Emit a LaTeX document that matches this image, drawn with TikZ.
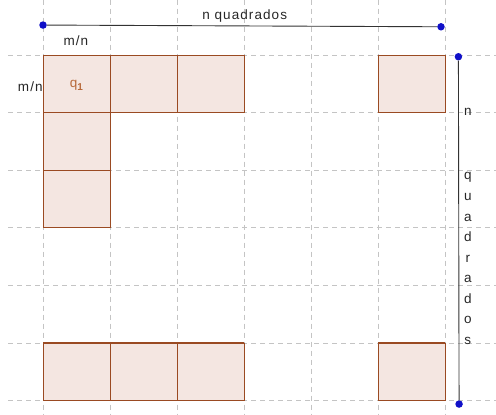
\documentclass[tikz,border=0pt]{standalone}
\usepackage{fontspec}
\setmainfont{Liberation Sans}
\definecolor{gridgray}{HTML}{C4C4C4}
\definecolor{quadfill}{HTML}{F4E6E1}
\definecolor{quadline}{HTML}{9A4A22}
\definecolor{quadtext}{HTML}{B8693A}
\definecolor{ptblue}{HTML}{1010C8}
\tikzset{
  gridline/.style={gridgray, line width=0.8pt, dash pattern=on 5pt off 4pt},
  quad/.style={draw=quadline, fill=quadfill, line width=0.9pt},
  endpt/.style={circle, fill=ptblue, inner sep=0pt, minimum size=7.5pt},
  lbl/.style={font=\fontsize{13.5}{13.5}\selectfont\addfontfeature{LetterSpace=8}, text=black!85, inner sep=0pt, anchor=base}
}
\begin{document}
\begin{tikzpicture}[x=67pt, y=-57.6pt]
  \useasboundingbox (-0.642,-0.955) rectangle (6.761,6.233);
  % grid
  \foreach \i in {0,...,6}
    \draw[gridline] (\i,-0.96) -- (\i,6.24);
  \foreach \j in {0,...,6}
    \draw[gridline] (-0.52,\j) -- (6.77,\j);
  % squares
  \foreach \i in {0,1,2,5}
    \draw[quad] (\i,0) rectangle ++(1,1);
  \foreach \j in {1,2}
    \draw[quad] (0,\j) rectangle ++(1,1);
  \foreach \i in {0,1,2,5} {
    \draw[quad] (\i,5) rectangle ++(1,1);
    \draw[quadline, line width=1.8pt] (\i,5) -- ++(1,0);
  }
  % segments
  \node[endpt] (topl) at (0,-0.52) {};
  \node[endpt] (topr) at (5.94,-0.49) {};
  \node[endpt] (sidet) at (6.2,0.03) {};
  \node[endpt] (sideb) at (6.21,6.06) {};
  \draw[black!80, line width=0.9pt] (topl) -- (topr);
  \draw[black!80, line width=0.9pt] (sidet) -- (sideb);
  % labels
  \node[lbl] (ntop) at (3.01,-0.62) {n quadrados};
  \node[lbl] (mntop) at (0.49,-0.16) {m/n};
  \node[lbl] (mnleft) at (-0.19,0.625) {m/n};
  \node[lbl, text=quadtext] (q1) at (0.5,0.56) {q\raisebox{-3pt}{\fontsize{10}{10}\selectfont\bfseries 1}};
  \node[lbl] (nside) at (6.34,1.05) {n};
  \foreach \c [count=\k from 0] in {q,u,a,d,r,a,d,o,s}
    \node[lbl] (side\k) at (6.34,2.17+0.356*\k) {\c};
\end{tikzpicture}
\end{document}
